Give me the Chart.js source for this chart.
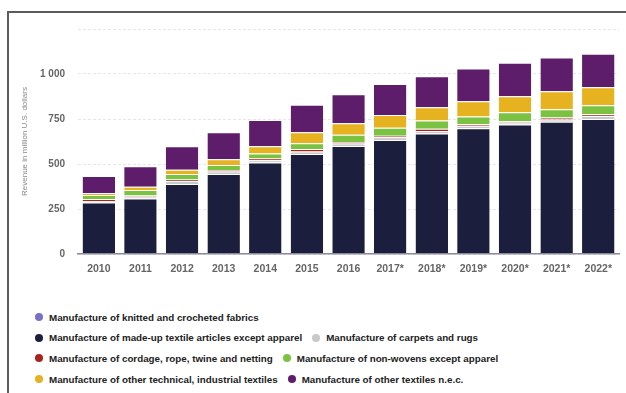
<!DOCTYPE html>
<html>
<head>
<meta charset="utf-8">
<script src="https://cdn.jsdelivr.net/npm/chart.js@4.4.0/dist/chart.umd.min.js"></script>
<style>
  html, body { margin: 0; padding: 0; background: #fff; }
  body { width: 626px; height: 393px; position: relative; overflow: hidden; font-family: "Liberation Sans", Arial, sans-serif; }
  #frame { position: absolute; left: 7px; top: 11px; width: 640px; height: 400px; border-top: 2px solid #5c5c5c; border-left: 2px solid #5c5c5c; }
  #wrap { position: absolute; left: 10px; top: 10px; width: 611px; height: 274px; }
  #legend { position: absolute; left: 35px; top: 307px; font-size: 9.8px; font-weight: bold; color: #222; }
  .row { height: 20.6px; display: flex; align-items: center; white-space: nowrap; }
  .item { display: inline-flex; align-items: center; margin-right: 10px; }
  .dot { width: 8px; height: 8px; border-radius: 50%; margin-right: 6px; }
</style>
</head>
<body>
<div id="frame"></div>
<div id="wrap"><canvas id="chart"></canvas></div>
<div id="legend"></div>
<script>
// ===== Data =====
const years = ["2010", "2011", "2012", "2013", "2014", "2015", "2016", "2017*", "2018*", "2019*", "2020*", "2021*", "2022*"];

const seriesNames = [
  "Manufacture of knitted and crocheted fabrics",
  "Manufacture of made-up textile articles except apparel",
  "Manufacture of carpets and rugs",
  "Manufacture of cordage, rope, twine and netting",
  "Manufacture of non-wovens except apparel",
  "Manufacture of other technical, industrial textiles",
  "Manufacture of other textiles n.e.c."
];
const seriesColors = ["#7a6fc6", "#1b1e3c", "#c9c9c9", "#a8231d", "#7cc242", "#e6b21f", "#5e1d6b"];

const knitted     = [4, 4, 4, 4, 4, 4, 4, 4, 4, 4, 4, 4, 4];
const madeUp      = [282, 305, 385, 440, 505, 552, 596, 629, 666, 694, 716, 731, 746];
const carpets     = [8, 10, 16, 14, 12, 14, 14, 16, 14, 14, 10, 12, 16];
const cordage     = [12, 6, 9, 8, 10, 14, 8, 8, 12, 10, 7, 12, 10];
const nonWovens   = [22, 30, 30, 28, 28, 31, 40, 45, 45, 42, 50, 45, 50];
const otherTech   = [10, 18, 24, 32, 40, 61, 65, 70, 74, 85, 90, 100, 100];
const otherTextiles = [96, 115, 130, 150, 145, 153, 160, 172, 173, 182, 186, 188, 187];

const seriesValues = [knitted, madeUp, carpets, cordage, nonWovens, otherTech, otherTextiles];

const yTicks = [0, 250, 500, 750, 1000, 1250];
const yTitle = "Revenue in million U.S. dollars";

// legend rows as in the picture (dataset indices)
const legendRows = [[0], [1, 2], [3, 4], [5, 6]];

// ===== Chart =====
const datasets = seriesNames.map((name, i) => ({
  label: name,
  data: seriesValues[i],
  backgroundColor: seriesColors[i],
  borderColor: "rgba(255,255,255,0.85)",
  borderWidth: { top: 1, left: 0, right: 0, bottom: 0 },
  borderSkipped: "start",
  barPercentage: 0.78,
  categoryPercentage: 1.0
}));

function fmt(v) {
  return String(v).replace(/\B(?=(\d{3})+(?!\d))/g, " ");
}

const chart = new Chart(document.getElementById("chart"), {
  type: "bar",
  data: { labels: years, datasets },
  options: {
    responsive: true,
    maintainAspectRatio: false,
    animation: false,
    layout: { padding: { top: 6, right: 0, bottom: 0, left: 0 } },
    plugins: {
      legend: { display: false },
      tooltip: { enabled: false }
    },
    scales: {
      x: {
        stacked: true,
        grid: { display: false, drawTicks: false },
        border: { color: "#8b8a9e", width: 1.5 },
        ticks: { color: "#666666", font: { family: "Liberation Sans", size: 10.5, weight: "bold" }, padding: 9 },
        afterFit: s => { s.height = 30; }
      },
      y: {
        stacked: true,
        min: 0,
        max: 1250,
        afterBuildTicks: s => { s.ticks = yTicks.map(v => ({ value: v })); },
        grid: { color: "#e6e6e6", drawTicks: false },
        border: { display: false, dash: [3, 2] },
        ticks: {
          color: "#666666",
          font: { family: "Liberation Sans", size: 10, weight: "bold" },
          padding: 13,
          callback: v => (v === 1250 ? "" : fmt(v))
        },
        title: {
          display: true,
          text: yTitle,
          color: "#8a8a8a",
          font: { family: "Liberation Sans", size: 8 },
          padding: { top: 10, bottom: 0 }
        },
        afterFit: s => { s.width = 68; }
      }
    }
  }
});

// ===== HTML legend =====
const legendDiv = document.getElementById("legend");
legendRows.forEach(row => {
  const r = document.createElement("div");
  r.className = "row";
  row.forEach(i => {
    const ds = chart.data.datasets[i];
    const item = document.createElement("span");
    item.className = "item";
    const dot = document.createElement("span");
    dot.className = "dot";
    dot.style.background = ds.backgroundColor;
    item.appendChild(dot);
    item.appendChild(document.createTextNode(ds.label));
    r.appendChild(item);
  });
  legendDiv.appendChild(r);
});
</script>
</body>
</html>
